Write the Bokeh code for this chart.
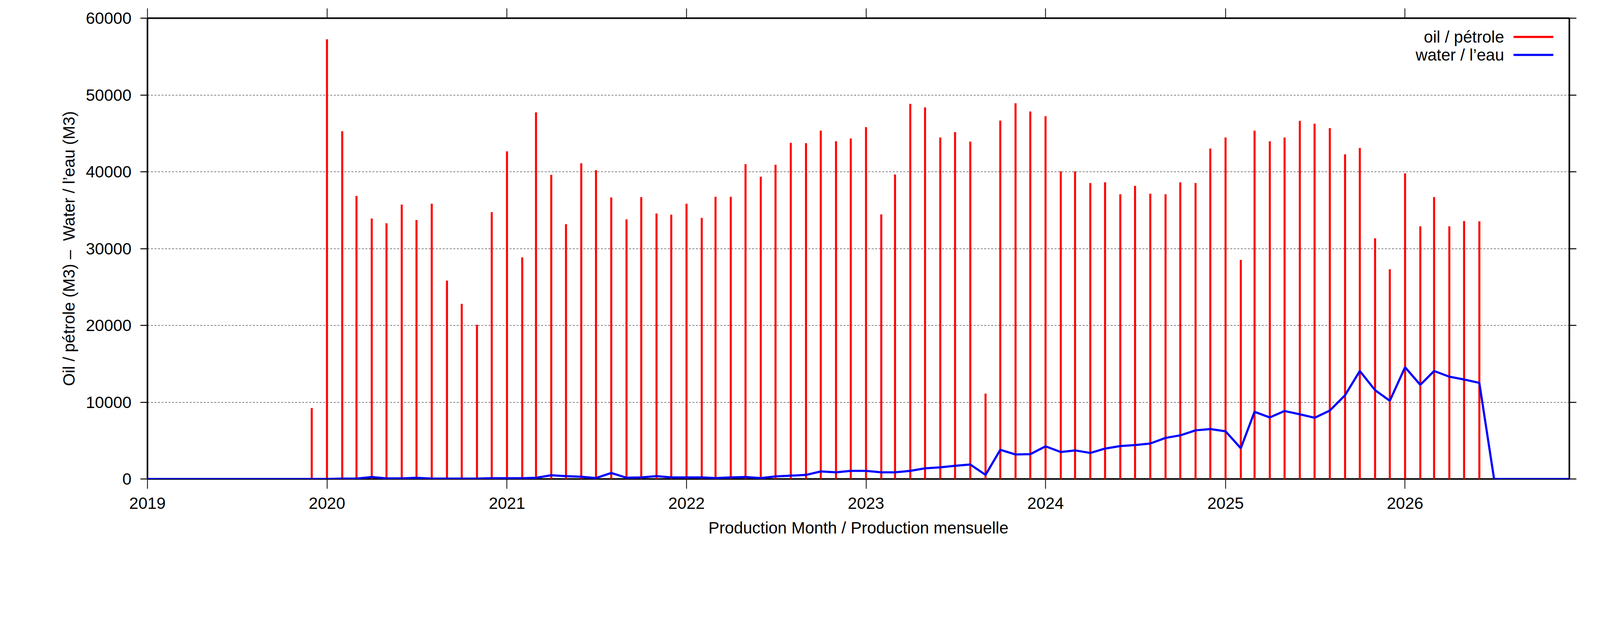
from datetime import datetime
from bokeh.plotting import figure
from bokeh.models import (Range1d, FixedTicker, DatetimeTickFormatter, BasicTickFormatter,
                          DatetimeAxis, LinearAxis, Label, BoxAnnotation, ColumnDataSource)
from bokeh.embed import file_html
from bokeh.resources import INLINE

# ---------------- data ----------------
oil_months = (["2019-12"] +
              [f"{y}-{m:02d}" for y in range(2020, 2026) for m in range(1, 13)] +
              [f"2026-{m:02d}" for m in range(1, 7)])
oil_m3 = [9240,
          57250, 45280, 36860, 33920, 33300, 35720, 33720, 35840, 25830, 22800, 20070, 34740,
          42660, 28850, 47730, 39600, 33180, 41110, 40210, 36660, 33800, 36700, 34570, 34410,
          35840, 34000, 36740, 36740, 40990, 39350, 40910, 43770, 43730, 45360, 43970, 44340,
          45810, 34450, 39640, 48840, 48390, 44460, 45160, 43930, 11120, 46670, 48920, 47850,
          47240, 40050, 40050, 38540, 38620, 37070, 38170, 37150, 37070, 38620, 38540, 43030,
          44460, 28520, 45360, 43970, 44460, 46630, 46260, 45690, 42260, 43110, 31340, 27300,
          39800, 32900, 36700, 32900, 33590, 33550]

water_months = [f"{y}-{m:02d}" for y in range(2019, 2027) for m in range(1, 13)]
water_m3 = [0, 0, 0, 0, 0, 0, 0, 0, 0, 0, 0, 0,
            0, 50, 50, 250, 80, 80, 150, 50, 50, 50, 50, 100,
            100, 100, 150, 480, 370, 290, 120, 780, 160, 200, 370, 200,
            200, 200, 120, 200, 250, 120, 330, 430, 530, 980, 860, 1060,
            1060, 860, 860, 1060, 1390, 1510, 1720, 1880, 530, 3800, 3190, 3230,
            4250, 3510, 3720, 3390, 3960, 4290, 4410, 4620, 5350, 5680, 6330, 6500,
            6210, 4000, 8750, 8010, 8850, 8420, 7970, 8910, 10910, 14060, 11570, 10180,
            14550, 12260, 14060, 13320, 12950, 12510, 0, 0, 0, 0, 0, 0]

year_ticks = list(range(2019, 2027))
y_ticks = [0, 10000, 20000, 30000, 40000, 50000, 60000]

labels = {
    "oil": "oil / pétrole",
    "water": "water / l\u2019eau",
    "x": "Production Month / Production mensuelle",
    "y": "Oil / pétrole (M3) \u2013\u00a0 Water / l\u2019eau (M3)",
}

# ---------------- helpers ----------------
def to_dt(s):
    y, m = s.split("-")
    return datetime(int(y), int(m), 1)

def to_ms(d):
    return (d - datetime(1970, 1, 1)).total_seconds() * 1000.0

FONT = "Liberation Sans"
FS = "42px"

oil_src = ColumnDataSource(dict(x=[to_dt(s) for s in oil_months], top=oil_m3,
                                base=[0] * len(oil_m3)))
water_src = ColumnDataSource(dict(x=[to_dt(s) for s in water_months], y=water_m3))

p = figure(width=4096, height=1594, x_axis_type="datetime",
           x_range=Range1d(datetime(2019, 1, 1), datetime(2026, 12, 1)),
           y_range=Range1d(0, 60000),
           output_backend="svg", toolbar_location=None,
           min_border_left=377, min_border_right=79, min_border_top=46,
           min_border_bottom=369)
p.background_fill_color = "white"
p.border_fill_color = "white"
p.outline_line_color = "black"
p.outline_line_width = 4

xticker = FixedTicker(ticks=[to_ms(datetime(y, 1, 1)) for y in year_ticks])
yticker = FixedTicker(ticks=y_ticks)
xfmt = DatetimeTickFormatter(years="%Y", months="%Y", days="%Y", hours="%Y",
                             hourmin="%Y", minutes="%Y", minsec="%Y", seconds="%Y",
                             milliseconds="%Y", microseconds="%Y")


def style_axis(ax, tick_out, tick_w, show_labels=True):
    ax.axis_line_color = None
    ax.major_tick_out = tick_out
    ax.major_tick_in = 0
    ax.major_tick_line_width = tick_w
    ax.major_tick_line_color = "black"
    ax.minor_tick_line_color = None
    ax.major_label_text_font = FONT
    ax.axis_label_text_font = FONT
    ax.axis_label_text_font_size = FS
    ax.axis_label_text_font_style = "normal"
    ax.axis_label_text_color = "black"
    if show_labels:
        ax.major_label_text_font_size = FS
        ax.major_label_text_color = "black"
    else:
        ax.major_label_text_font_size = "1px"
        ax.major_label_text_color = None
        ax.major_label_standoff = 0


xa = p.xaxis[0]
xa.ticker = xticker
xa.formatter = xfmt
style_axis(xa, 25, 2)
xa.major_label_standoff = 22
xa.axis_label = labels["x"]
xa.axis_label_standoff = 22

ya = p.yaxis[0]
ya.ticker = yticker
ya.formatter = BasicTickFormatter(use_scientific=False)
style_axis(ya, 18, 2.5)
ya.major_label_standoff = 23
ya.axis_label = labels["y"]
ya.axis_label_standoff = 17

top_ax = DatetimeAxis(ticker=xticker, formatter=xfmt)
style_axis(top_ax, 25, 2, show_labels=False)
p.add_layout(top_ax, "above")
right_ax = LinearAxis(ticker=yticker, formatter=BasicTickFormatter(use_scientific=False))
style_axis(right_ax, 18, 2.5, show_labels=False)
p.add_layout(right_ax, "right")

p.xgrid.visible = False
p.ygrid.ticker = yticker
p.ygrid.grid_line_color = "black"
p.ygrid.grid_line_width = 1.2
p.ygrid.grid_line_dash = "5 4"

# oil impulses
p.segment(x0="x", y0="base", x1="x", y1="top", source=oil_src,
          line_color="#ff0000", line_width=5.2)
# water line
p.line(x="x", y="y", source=water_src, line_color="#0000ff", line_width=5.5)

# legend (gnuplot style: text then sample, right aligned)
rows = [(labels["oil"], "#ff0000", 1131), (labels["water"], "#0000ff", 1085)]
for text, col, yy in rows:
    p.add_layout(Label(x=3473, y=yy, x_units="screen", y_units="screen", text=text,
                       text_align="right", text_baseline="middle", text_font=FONT,
                       text_font_size=FS, text_color="black"))
    p.add_layout(BoxAnnotation(left=3497, right=3599, bottom=yy - 2.75, top=yy + 2.75,
                               left_units="screen", right_units="screen",
                               top_units="screen", bottom_units="screen",
                               fill_color=col, fill_alpha=1.0, line_color=None))

open("out.html", "w").write(file_html(p, INLINE))
